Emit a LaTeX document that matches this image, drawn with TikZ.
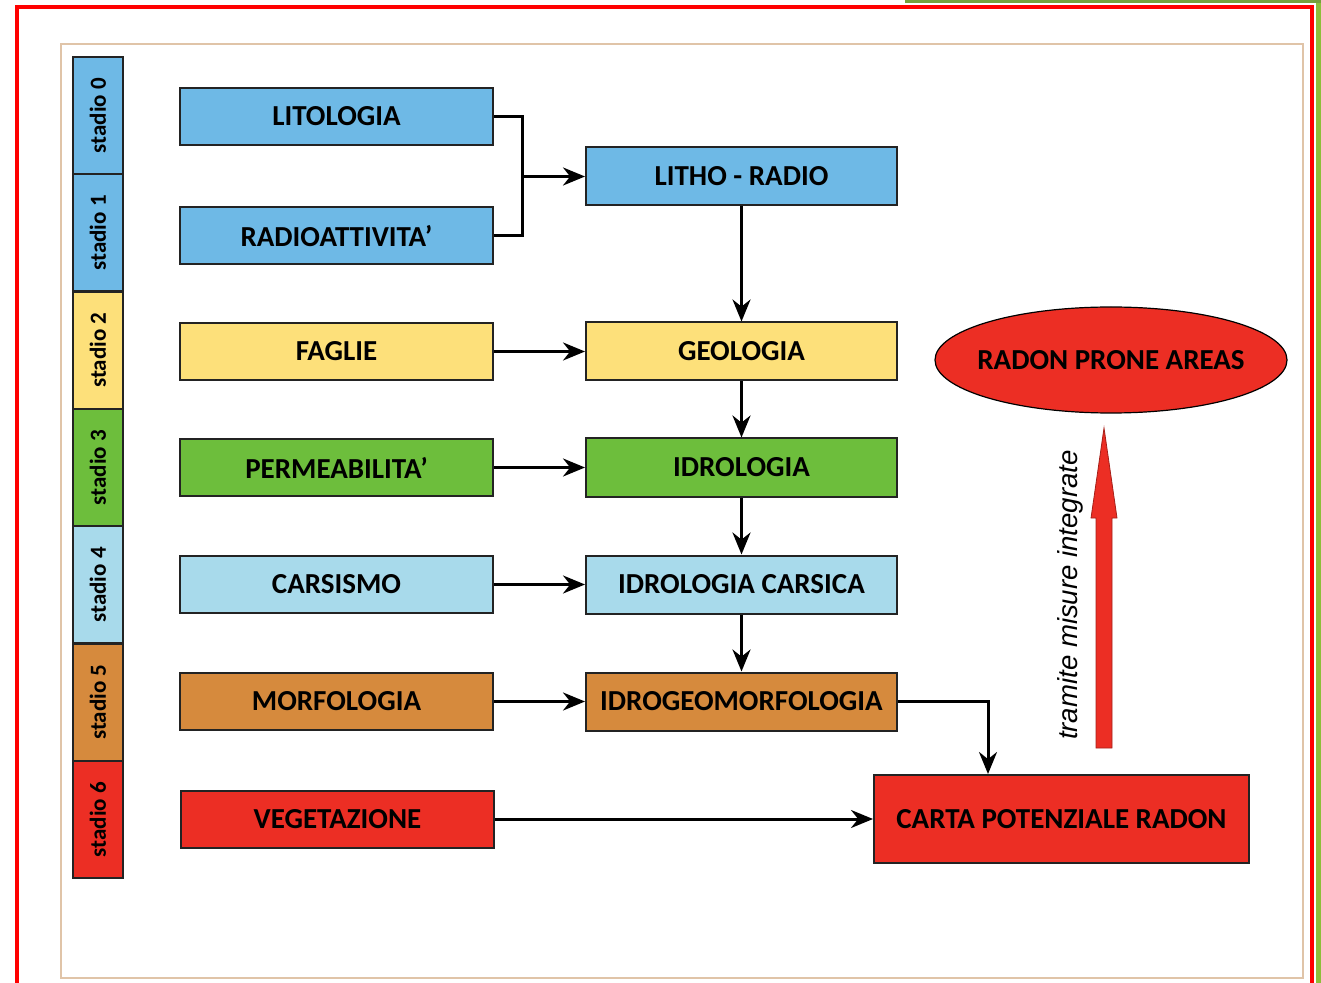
\documentclass[tikz,border=0pt]{standalone}
\usepackage{fontspec}
\setmainfont{Carlito}
\newfontfamily\arialfont{Liberation Sans}
\usetikzlibrary{shapes.geometric, arrows.meta, positioning}
\tikzstyle{arrow} = [line width=1.5pt, -{Stealth[length=11pt,width=9pt]}]
\usepackage{xcolor}
\definecolor{litoblue}{RGB}{110,185,230}
\definecolor{faglieyellow}{RGB}{253,224,122}
\definecolor{permgreen}{RGB}{109,190,60}
\definecolor{carsblue}{RGB}{168,218,235}
\definecolor{morforange}{RGB}{214,138,61}
\definecolor{vegered}{RGB}{236,46,36}
\definecolor{boxline}{RGB}{35,35,35}
\definecolor{tanline}{RGB}{224,196,168}
\definecolor{edgegreen}{RGB}{141,190,58}
\definecolor{topgreen}{RGB}{118,160,60}

\begin{document}
\begin{tikzpicture}[
  x=0.5pt, y=-0.5pt,
  every node/.style={font=\bfseries\fontsize{14.5}{17}\selectfont},
  leftbox/.style={draw=boxline, line width=1pt, rectangle, minimum width=156.5pt, minimum height=28.5pt, inner sep=0pt},
  midbox/.style={leftbox, minimum width=155.5pt, minimum height=29pt},
  stage/.style={draw=boxline, line width=1.2pt, rectangle, rotate=90, minimum width=58.65pt, minimum height=25pt, inner sep=0pt, font=\bfseries\fontsize{11.5}{13}\selectfont},
  conn/.style={line width=1.5pt}
]
\useasboundingbox (0,0) rectangle (1321,983);

% Frame
\fill[edgegreen] (1316,0) rectangle (1321,983);
\fill[topgreen] (905,0) rectangle (1321,3);
\draw[red, line width=2pt] (17,983) -- (17,7) -- (1312,7) -- (1312,983);
\draw[tanline, line width=0.8pt] (61,44) rectangle (1303,978);

% Stages
\node[stage, fill=litoblue]     (s0) at (98,115.65) {stadio 0};
\node[stage, fill=litoblue]     (s1) at (98,232.95) {stadio 1};
\node[stage, fill=faglieyellow] (s2) at (98,350.25) {stadio 2};
\node[stage, fill=permgreen]    (s3) at (98,467.55) {stadio 3};
\node[stage, fill=carsblue]     (s4) at (98,584.85) {stadio 4};
\node[stage, fill=morforange]   (s5) at (98,702.15) {stadio 5};
\node[stage, fill=vegered]      (s6) at (98,819.45) {stadio 6};

% Input boxes
\node[leftbox, fill=litoblue]     (lito)   at (336.5,116.5) {LITOLOGIA};
\node[leftbox, fill=litoblue]     (radio)  at (336.5,236)   {RADIOATTIVITA’};
\node[leftbox, fill=faglieyellow] (faglie) at (336.5,351.5) {FAGLIE};
\node[leftbox, fill=permgreen]    (perm)   at (336.5,467.5) {PERMEABILITA’};
\node[leftbox, fill=carsblue]     (cars)   at (336.5,584.5) {CARSISMO};
\node[leftbox, fill=morforange]   (morfo)  at (336.5,701.5) {MORFOLOGIA};
\node[leftbox, fill=vegered]      (vege)   at (337.5,819)   {VEGETAZIONE};

% Combined layers
\node[midbox, fill=litoblue]     (litho)   at (741.5,176.5) {LITHO - RADIO};
\node[midbox, fill=faglieyellow] (geo)     at (741.5,351.5) {GEOLOGIA};
\node[midbox, fill=permgreen]    (idro)    at (741.5,467.5) {IDROLOGIA};
\node[midbox, fill=carsblue]     (idrocar) at (741.5,584.5) {IDROLOGIA CARSICA};
\node[midbox, fill=morforange]   (idrogeo) at (741.5,701.5) {IDROGEOMORFOLOGIA};

% Results
\node[leftbox, fill=vegered, minimum width=187.5pt, minimum height=44pt] (carta) at (1061.5,819) {CARTA POTENZIALE RADON};
\node[draw=black, line width=0.6pt, ellipse, fill=vegered, minimum width=176pt, minimum height=53pt, inner sep=0pt] (rpa) at (1111,360) {\makebox[0pt]{RADON PRONE AREAS}};

% Red arrow
\filldraw[fill=vegered, draw=vegered!70!black, line width=0.4pt]
  (1096,748) -- (1096,518) -- (1091,518) -- (1104,428) -- (1117,518) -- (1112,518) -- (1112,748) -- cycle;
\node[rotate=90, font=\arialfont\itshape\fontsize{13.8}{16}\selectfont] (tmi) at (1070,595) {tramite misure integrate};

% Connectors
\coordinate (join) at (522,176.5);
\draw[conn] (lito.east) -| (join) |- (radio.east);
\draw[arrow] (join) -- (litho.west);
\draw[arrow] (litho.south) -- (geo.north);
\draw[arrow] (faglie.east) -- (geo.west);
\draw[arrow] (geo.south) -- (idro.north);
\draw[arrow] (perm.east) -- (idro.west);
\draw[arrow] (idro.south) -- (idrocar.north);
\draw[arrow] (cars.east) -- (idrocar.west);
\draw[arrow] (idrocar.south) -- (idrogeo.north);
\draw[arrow] (morfo.east) -- (idrogeo.west);
\draw[arrow] (idrogeo.east) -| ([xshift=-36.75pt]carta.north);
\draw[arrow] (vege.east) -- (carta.west);
\end{tikzpicture}
\end{document}
